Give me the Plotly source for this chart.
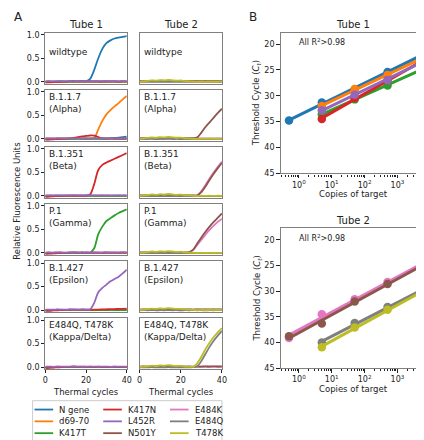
import numpy as np
import plotly.graph_objects as go

# ---------------- data: panel A (amplification curves) ----------------
cycles = [0, 2, 4, 6, 8, 10, 12, 14, 16, 18, 20, 22, 24, 26, 28, 30, 32, 34, 36, 38, 40]

tube1_channels = ["N gene", "d69-70", "K417T", "K417N", "L452R"]
tube2_channels = ["E484K", "N501Y", "E484Q", "T478K"]
channel_colors = {
    "N gene": "#1f77b4", "d69-70": "#ff7f0e", "K417T": "#2ca02c",
    "K417N": "#d62728", "L452R": "#9467bd", "N501Y": "#8c564b",
    "E484K": "#e377c2", "E484Q": "#7f7f7f", "T478K": "#bcbd22",
}
variant_labels = ["wildtype", "B.1.1.7<br>(Alpha)", "B.1.351<br>(Beta)",
                  "P.1<br>(Gamma)", "B.1.427<br>(Epsilon)",
                  "E484Q, T478K<br>(Kappa/Delta)"]

# baselines (non-amplifying channels)
base_N_gene = [0.000, 0.004, 0.002, 0.006, 0.003, 0.000, 0.005, 0.004, 0.001, 0.005, 0.006,
               0.002, 0.004, 0.001, 0.003, 0.006, 0.004, 0.002, 0.004, 0.006, 0.005]
base_d69_70 = [0.002, 0.000, 0.004, 0.002, 0.006, 0.003, 0.001, 0.004, 0.002, 0.005, 0.001,
               0.003, 0.000, 0.004, 0.002, 0.001, 0.003, 0.000, 0.002, 0.001, 0.000]
base_K417T = [-0.010, -0.006, -0.004, -0.002, 0.000, -0.003, 0.000, -0.002, 0.001, -0.002, 0.000,
              -0.001, 0.001, -0.002, 0.000, -0.001, 0.001, 0.000, -0.002, 0.000, -0.001]
base_K417N = [-0.020, -0.016, -0.010, -0.006, -0.002, 0.002, 0.005, 0.012, 0.006, 0.010, 0.004,
              0.008, 0.003, 0.007, 0.002, 0.006, 0.004, 0.008, 0.003, 0.006, 0.004]
base_L452R = [0.008, 0.010, 0.006, 0.012, 0.009, 0.007, 0.011, 0.008, 0.010, 0.006, 0.009,
              0.008, 0.011, 0.007, 0.009, 0.010, 0.006, 0.009, 0.008, 0.010, 0.007]
base_E484K = [0.006, 0.008, 0.005, 0.009, 0.007, 0.006, 0.008, 0.006, 0.009, 0.007, 0.006,
              0.008, 0.007, 0.006, 0.008, 0.007, 0.009, 0.006, 0.008, 0.007, 0.006]
base_N501Y = [0.010, 0.012, 0.011, 0.014, 0.012, 0.013, 0.015, 0.013, 0.014, 0.012, 0.013,
              0.011, 0.012, 0.010, 0.012, 0.011, 0.013, 0.012, 0.014, 0.012, 0.013]
base_E484Q = [-0.006, -0.004, -0.005, -0.003, -0.006, -0.004, -0.005, -0.003, -0.005, -0.004, -0.006,
              -0.004, -0.005, -0.003, -0.005, -0.004, -0.006, -0.004, -0.005, -0.003, -0.004]
base_T478K = [0.000, 0.008, 0.018, 0.030, 0.022, 0.035, 0.028, 0.040, 0.030, 0.022, 0.026,
              0.012, 0.008, 0.002, -0.004, 0.002, -0.002, 0.003, -0.001, 0.002, 0.000]

# amplified / deviating curves, Tube 1
wt_N_gene = [0.00, 0.004, 0.002, 0.006, 0.003, 0.00, 0.005, 0.004, 0.002, 0.006, 0.010,
             0.06, 0.25, 0.50, 0.70, 0.82, 0.88, 0.92, 0.94, 0.955, 0.97]
alpha_d69_70 = [0.002, 0.000, 0.004, 0.002, 0.006, 0.003, 0.001, 0.004, 0.002, 0.005, 0.001,
                0.003, 0.010, 0.20, 0.38, 0.52, 0.61, 0.69, 0.76, 0.84, 0.91]
alpha_K417N = [-0.020, -0.016, -0.010, -0.006, -0.002, 0.004, 0.010, 0.020, 0.035, 0.050, 0.060,
               0.070, 0.065, 0.035, 0.010, 0.005, 0.002, 0.004, 0.002, 0.004, 0.002]
alpha_N_gene = [0.000, 0.004, 0.002, 0.006, 0.003, 0.000, 0.005, 0.004, 0.001, 0.005, 0.006,
                0.002, 0.004, 0.003, 0.005, 0.008, 0.012, 0.018, 0.025, 0.034, 0.045]
beta_K417N = [-0.020, -0.015, -0.010, -0.005, 0.000, 0.002, 0.005, 0.002, 0.005, 0.002, 0.006,
              0.03, 0.25, 0.55, 0.66, 0.71, 0.75, 0.79, 0.83, 0.87, 0.91]
gamma_K417T = [-0.010, -0.006, -0.004, -0.002, 0.000, -0.003, 0.000, -0.002, 0.001, -0.002, 0.000,
               0.004, 0.10, 0.40, 0.56, 0.68, 0.74, 0.80, 0.85, 0.89, 0.93]
eps_L452R = [0.008, 0.010, 0.006, 0.012, 0.009, 0.007, 0.011, 0.008, 0.010, 0.006, 0.009,
             0.015, 0.15, 0.38, 0.47, 0.54, 0.61, 0.66, 0.71, 0.78, 0.86]
eps_K417N = [-0.020, -0.016, -0.010, -0.006, -0.002, 0.002, 0.005, 0.012, 0.006, 0.010, 0.004,
             0.008, 0.006, 0.010, 0.012, 0.015, 0.018, 0.020, 0.022, 0.025, 0.028]

# amplified curves, Tube 2
alpha_N501Y = [0.010, 0.012, 0.011, 0.014, 0.012, 0.013, 0.015, 0.013, 0.014, 0.012, 0.013,
               0.011, 0.012, 0.012, 0.030, 0.13, 0.25, 0.35, 0.45, 0.55, 0.64]
beta_E484K = [0.006, 0.008, 0.005, 0.009, 0.007, 0.006, 0.008, 0.006, 0.009, 0.007, 0.006,
              0.008, 0.007, 0.006, 0.012, 0.10, 0.23, 0.37, 0.50, 0.62, 0.73]
beta_N501Y = [0.010, 0.012, 0.011, 0.014, 0.012, 0.013, 0.015, 0.013, 0.014, 0.012, 0.013,
              0.011, 0.012, 0.010, 0.010, 0.08, 0.20, 0.34, 0.47, 0.59, 0.70]
gamma_N501Y = [0.010, 0.012, 0.011, 0.014, 0.012, 0.013, 0.015, 0.013, 0.014, 0.012, 0.013,
               0.011, 0.015, 0.07, 0.20, 0.33, 0.45, 0.56, 0.66, 0.75, 0.84]
gamma_E484K = [0.006, 0.008, 0.005, 0.009, 0.007, 0.006, 0.008, 0.006, 0.009, 0.007, 0.006,
               0.008, 0.010, 0.06, 0.17, 0.28, 0.39, 0.49, 0.58, 0.66, 0.73]
kd_T478K = [0.000, 0.008, 0.018, 0.030, 0.022, 0.035, 0.028, 0.040, 0.030, 0.022, 0.026,
            0.012, 0.008, 0.005, 0.08, 0.22, 0.38, 0.52, 0.64, 0.74, 0.83]
kd_E484Q = [-0.006, -0.004, -0.005, -0.003, -0.006, -0.004, -0.005, -0.003, -0.005, -0.004, -0.006,
            -0.004, -0.005, -0.003, 0.020, 0.13, 0.28, 0.43, 0.56, 0.67, 0.77]

# ---------------- data: panel B (standard curves) ----------------
copies = [0.5, 5, 50, 500, 5000]
ct_N_gene = [34.8, 31.3, 28.8, 25.4, 22.2]
ct_d69_70 = [None, 32.0, 28.7, 26.0, 22.9]
ct_K417T = [None, 33.6, 30.7, 28.0, 25.0]
ct_K417N = [None, 34.5, 30.5, 27.0, 23.6]
ct_L452R = [None, 32.8, 29.8, 27.0, 23.5]
ct_E484K = [39.1, 34.5, 31.6, 28.2, 25.1]
ct_N501Y = [38.8, 36.3, 32.0, 28.6, 25.2]
ct_E484Q = [None, 40.0, 36.2, 33.1, 30.1]
ct_T478K = [None, 40.9, 37.1, 33.6, 30.4]

# ---------------- assemble ----------------
base1 = {"N gene": base_N_gene, "d69-70": base_d69_70, "K417T": base_K417T,
         "K417N": base_K417N, "L452R": base_L452R}
base2 = {"E484K": base_E484K, "N501Y": base_N501Y, "E484Q": base_E484Q, "T478K": base_T478K}
tube1_panels = [
    {"N gene": wt_N_gene},
    {"d69-70": alpha_d69_70, "K417N": alpha_K417N, "N gene": alpha_N_gene},
    {"K417N": beta_K417N},
    {"K417T": gamma_K417T},
    {"L452R": eps_L452R, "K417N": eps_K417N},
    {},
]
tube2_panels = [
    {},
    {"N501Y": alpha_N501Y},
    {"E484K": beta_E484K, "N501Y": beta_N501Y},
    {"E484K": gamma_E484K, "N501Y": gamma_N501Y},
    {},
    {"T478K": kd_T478K, "E484Q": kd_E484Q},
]
b_tube1 = {"N gene": ct_N_gene, "d69-70": ct_d69_70, "K417T": ct_K417T,
           "K417N": ct_K417N, "L452R": ct_L452R}
b_tube2 = {"E484K": ct_E484K, "N501Y": ct_N501Y, "E484Q": ct_E484Q, "T478K": ct_T478K}

W, H = 424, 440
FONT = "DejaVu Sans"
FRAME = "#808080"
TXT = "#222222"


def fx(a):
    return a / W


def fy(b):
    return 1 - b / H


fig = go.Figure()
layout = {}
annotations = []
shapes = []

col_x = [(35, 118), (131, 215)]
row_top = [23 + 58 * i for i in range(6)]
row_h = 52


def axname(k, letter):
    return f"{letter}axis" if k == 1 else f"{letter}axis{k}"


def ref(k, letter):
    return letter if k == 1 else f"{letter}{k}"


for r in range(6):
    for c in range(2):
        k = r * 2 + c + 1
        x0, x1 = col_x[c]
        t = row_top[r]
        layout[axname(k, "x")] = dict(
            domain=[fx(x0), fx(x1)], anchor=ref(k, "y"), range=[0, 40],
            showline=True, mirror=True, linecolor=FRAME, linewidth=1.3,
            showgrid=False, zeroline=False,
            tickvals=[0, 20, 40], ticks="outside" if r == 5 else "", ticklen=3,
            tickcolor=TXT, showticklabels=(r == 5),
            tickfont=dict(size=8, color=TXT, family=FONT))
        layout[axname(k, "y")] = dict(
            domain=[fy(t + row_h), fy(t)], anchor=ref(k, "x"), range=[-0.045, 1.045],
            showline=True, mirror=True, linecolor=FRAME, linewidth=1.3,
            showgrid=False, zeroline=False,
            tickvals=[0, 0.5, 1.0], ticktext=["0.0", "0.5", "1.0"],
            ticks="outside" if c == 0 else "", ticklen=3, tickcolor=TXT,
            showticklabels=(c == 0),
            tickfont=dict(size=8, color=TXT, family=FONT))
        chans = tube1_channels if c == 0 else tube2_channels
        panel = tube1_panels[r] if c == 0 else tube2_panels[r]
        base = base1 if c == 0 else base2
        for ch in chans:
            yv = panel.get(ch, base[ch])
            fig.add_trace(go.Scatter(
                x=cycles, y=yv, mode="lines",
                line=dict(color=channel_colors[ch], width=1.8, shape="spline", smoothing=0.8),
                xaxis=ref(k, "x"), yaxis=ref(k, "y"), showlegend=False, hoverinfo="skip"))
        lab = variant_labels[r]
        two = "<br>" in lab
        annotations.append(dict(
            text=lab, xref=f"{ref(k, 'x')} domain", yref=f"{ref(k, 'y')} domain",
            x=0.025, y=(1 - 13.5 / row_h) if two else (1 - 20 / row_h),
            xanchor="left", yanchor="middle", align="left", showarrow=False,
            font=dict(size=9, color=TXT, family=FONT)))

# panel B
b_x = (275, 423)
b_rows = [(23, 166), (222, 364)]
minor_vals = []
for dec in [0.1, 1, 10, 100, 1000]:
    for m in range(2, 10):
        v = m * dec
        if 0.28 <= v <= 7400:
            minor_vals.append(v)
for i, (series, chans) in enumerate([(b_tube1, tube1_channels), (b_tube2, tube2_channels)]):
    k = 13 + i
    t, b = b_rows[i]
    layout[axname(k, "x")] = dict(
        domain=[fx(b_x[0]), fx(b_x[1])], anchor=ref(k, "y"), type="log",
        range=[-0.55, 3.87], showline=True, mirror=True, linecolor=FRAME, linewidth=1.3,
        showgrid=False, zeroline=False,
        tickvals=[1, 10, 100, 1000],
        ticktext=["10<sup>0</sup>", "10<sup>1</sup>", "10<sup>2</sup>", "10<sup>3</sup>"],
        ticks="outside", ticklen=3.5, tickcolor=TXT,
        minor=dict(tickvals=minor_vals, ticks="outside", ticklen=2, tickcolor=TXT),
        tickfont=dict(size=8, color=TXT, family=FONT))
    layout[axname(k, "y")] = dict(
        domain=[fy(b), fy(t)], anchor=ref(k, "x"), range=[45, 17.8],
        showline=True, mirror=True, linecolor=FRAME, linewidth=1.3,
        showgrid=False, zeroline=False, tickvals=[20, 25, 30, 35, 40, 45],
        ticks="outside", ticklen=3.5, tickcolor=TXT,
        tickfont=dict(size=8, color=TXT, family=FONT))
    for ch in chans:
        vals = series[ch]
        xs = [copies[j] for j in range(len(copies)) if vals[j] is not None]
        ys = [vals[j] for j in range(len(copies)) if vals[j] is not None]
        slope, inter = np.polyfit(np.log10(xs), ys, 1)
        xl = [min(xs), max(xs)]
        yl = [inter + slope * np.log10(v) for v in xl]
        fig.add_trace(go.Scatter(
            x=xl, y=yl, mode="lines", line=dict(color=channel_colors[ch], width=3),
            xaxis=ref(k, "x"), yaxis=ref(k, "y"), showlegend=False, hoverinfo="skip"))
        fig.add_trace(go.Scatter(
            x=xs, y=ys, mode="markers", marker=dict(color=channel_colors[ch], size=8.5),
            xaxis=ref(k, "x"), yaxis=ref(k, "y"), showlegend=False, hoverinfo="skip"))
    annotations.append(dict(text="All R<sup>2</sup>>0.98", xref="paper", yref="paper",
                            x=fx(292), y=fy(t + 10), xanchor="left", yanchor="middle",
                            showarrow=False, font=dict(size=8, color=TXT, family=FONT)))
    annotations.append(dict(text="Copies of target", xref="paper", yref="paper",
                            x=fx((b_x[0] + b_x[1]) / 2), y=fy(b + 21), xanchor="center",
                            yanchor="middle", showarrow=False,
                            font=dict(size=8.5, color=TXT, family=FONT)))
    annotations.append(dict(text="Threshold Cycle (<i>C<sub>t</sub></i>)", xref="paper",
                            yref="paper", x=fx(251), y=fy((t + b) / 2), textangle=-90,
                            xanchor="center", yanchor="middle", showarrow=False,
                            font=dict(size=8.5, color=TXT, family=FONT)))
    annotations.append(dict(text=f"Tube {i + 1}", xref="paper", yref="paper",
                            x=fx((b_x[0] + b_x[1]) / 2), y=fy(t - 8), xanchor="center",
                            yanchor="middle", showarrow=False,
                            font=dict(size=10, color=TXT, family=FONT)))

# panel A texts
for c in range(2):
    cx = (col_x[c][0] + col_x[c][1]) / 2
    annotations.append(dict(text=f"Tube {c + 1}", xref="paper", yref="paper", x=fx(cx),
                            y=fy(15), xanchor="center", yanchor="middle", showarrow=False,
                            font=dict(size=10, color=TXT, family=FONT)))
    annotations.append(dict(text="Thermal cycles", xref="paper", yref="paper", x=fx(cx),
                            y=fy(388), xanchor="center", yanchor="middle", showarrow=False,
                            font=dict(size=8.5, color=TXT, family=FONT)))
annotations.append(dict(text="Relative Fluorescence Units", xref="paper", yref="paper",
                        x=fx(6), y=fy(194), textangle=-90, xanchor="center", yanchor="middle",
                        showarrow=False, font=dict(size=8.5, color=TXT, family=FONT)))
annotations.append(dict(text="A", xref="paper", yref="paper", x=fx(1), y=fy(7),
                        xanchor="left", yanchor="middle", showarrow=False,
                        font=dict(size=12, color=TXT, family=FONT)))
annotations.append(dict(text="B", xref="paper", yref="paper", x=fx(241), y=fy(7),
                        xanchor="left", yanchor="middle", showarrow=False,
                        font=dict(size=12, color=TXT, family=FONT)))

# legend (drawn manually, column-major like the reference)
legend_cols = [["N gene", "d69-70", "K417T"], ["K417N", "L452R", "N501Y"],
               ["E484K", "E484Q", "T478K"]]
legend_line_x = [24, 94, 162]
legend_rows_y = [406, 418, 430]
shapes.append(dict(type="rect", xref="paper", yref="paper", x0=fx(22), x1=fx(215),
                   y0=fy(439), y1=fy(397), line=dict(color="#cccccc", width=1),
                   fillcolor="white", layer="below"))
for ci, col in enumerate(legend_cols):
    for ri, ch in enumerate(col):
        lx = legend_line_x[ci]
        ly = legend_rows_y[ri]
        shapes.append(dict(type="line", xref="paper", yref="paper", x0=fx(lx), x1=fx(lx + 19),
                           y0=fy(ly), y1=fy(ly), line=dict(color=channel_colors[ch], width=1.8)))
        annotations.append(dict(text=ch, xref="paper", yref="paper", x=fx(lx + 23), y=fy(ly),
                                xanchor="left", yanchor="middle", showarrow=False,
                                font=dict(size=8.5, color=TXT, family=FONT)))

fig.update_layout(**layout)
fig.update_layout(width=W, height=H, margin=dict(l=0, r=0, t=0, b=0),
                  paper_bgcolor="white", plot_bgcolor="white", showlegend=False,
                  annotations=annotations, shapes=shapes,
                  font=dict(family=FONT, color=TXT))
fig.write_html("out.html")
